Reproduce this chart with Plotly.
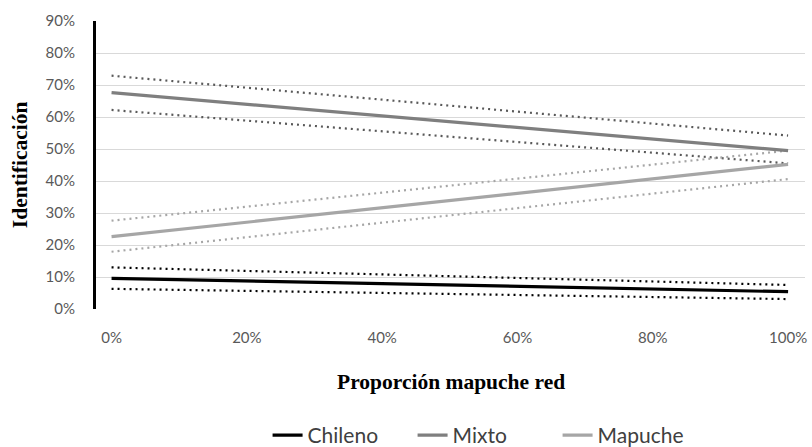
import plotly.graph_objects as go

# Proportion of Mapuche contacts in the personal network (x) and
# predicted identification with each category, with confidence bounds.
x_prop = [0.0, 1.0]

chileno = [0.096, 0.054]
chileno_hi = [0.130, 0.075]
chileno_lo = [0.063, 0.031]

mixto = [0.676, 0.495]
mixto_hi = [0.729, 0.542]
mixto_lo = [0.622, 0.455]

mapuche = [0.226, 0.452]
mapuche_hi = [0.276, 0.495]
mapuche_lo = [0.179, 0.406]

x_ticks = [0, 0.2, 0.4, 0.6, 0.8, 1.0]
y_ticks = [0, 0.1, 0.2, 0.3, 0.4, 0.5, 0.6, 0.7, 0.8, 0.9]

series = [
    ("Chileno", chileno, chileno_lo, chileno_hi, "#000000", "#000000"),
    ("Mixto", mixto, mixto_lo, mixto_hi, "#7f7f7f", "#595959"),
    ("Mapuche", mapuche, mapuche_lo, mapuche_hi, "#a6a6a6", "#a6a6a6"),
]

fig = go.Figure()

# Confidence bounds first (dotted), then the fitted lines on top
for name, mid, lo, hi, col, dotcol in series:
    for bound in (hi, lo):
        fig.add_trace(go.Scatter(
            x=x_prop, y=bound, mode="lines", showlegend=False,
            line=dict(color=dotcol, width=2.2, dash="2px,4px"),
            hoverinfo="skip",
        ))

for name, mid, lo, hi, col, dotcol in series:
    fig.add_trace(go.Scatter(
        x=x_prop, y=mid, mode="lines", name=name,
        line=dict(color=col, width=3.2),
    ))

tick_font = dict(family="Lato, sans-serif", size=15, color="#595959")
title_font = dict(family="Liberation Serif, serif", size=21.5, color="#000000")

fig.update_layout(
    width=812, height=447,
    margin=dict(l=96, r=5, t=21, b=138),
    paper_bgcolor="white", plot_bgcolor="white",
    showlegend=True,
    legend=dict(
        orientation="h",
        x=0.242, xanchor="left", xref="paper",
        y=0.026, yanchor="middle", yref="container",
        font=dict(family="Lato, sans-serif", size=21, color="#404040"),
        traceorder="normal",
        itemwidth=30,
        entrywidth=100,
    ),
    xaxis=dict(
        range=[-0.023, 1.025],
        tickvals=x_ticks, tickformat=".0%",
        showgrid=False, zeroline=False, showline=False,
        tickfont=tick_font, ticks="", ticklabelstandoff=18,
        fixedrange=True,
    ),
    yaxis=dict(
        range=[0, 0.9],
        tickvals=y_ticks, tickformat=".0%",
        showgrid=True, gridcolor="#d9d9d9", gridwidth=1.2,
        zeroline=False,
        showline=True, linecolor="#000000", linewidth=3,
        tickfont=tick_font, ticks="", ticklabelstandoff=15,
        fixedrange=True,
    ),
    annotations=[
        dict(
            text="<b>Identificación</b>", textangle=-90,
            xref="paper", yref="paper", x=-0.107, y=0.5,
            xanchor="center", yanchor="middle", showarrow=False,
            font=title_font,
        ),
        dict(
            text="<b>Proporción mapuche red</b>",
            xref="paper", yref="paper", x=0.5, y=-0.255,
            xanchor="center", yanchor="middle", showarrow=False,
            font=title_font,
        ),
    ],
)

fig.write_html("out.html")
